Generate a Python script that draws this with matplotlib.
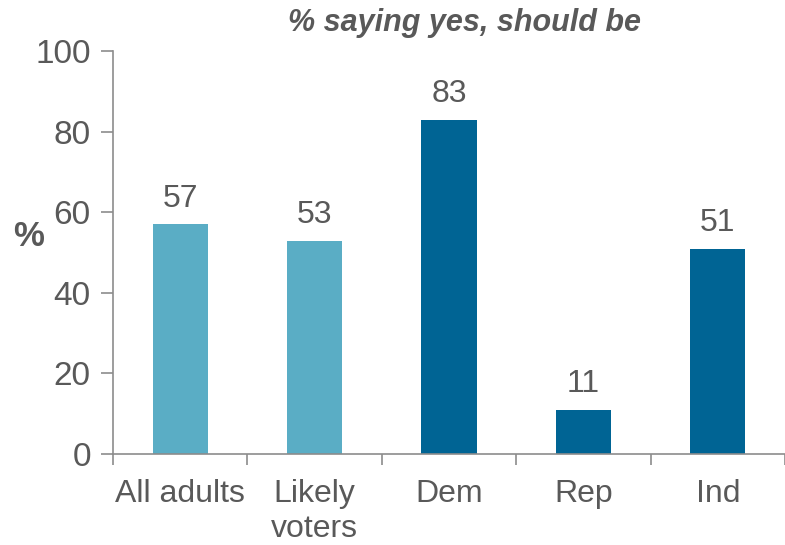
import matplotlib.pyplot as plt
import numpy as np

plt.rcParams['font.family'] = ['Liberation Sans', 'DejaVu Sans']

categories = ['All adults', 'Likely\nvoters', 'Dem', 'Rep', 'Ind']
values = [57, 53, 83, 11, 51]
colors = ['#5aadc5', '#5aadc5', '#006494', '#006494', '#006494']

text_c = '#595959'
axis_c = '#8c8c8c'

fig = plt.figure(figsize=(7.85, 5.45), dpi=100)
ax = fig.add_axes([0.144, 0.167, 0.856, 0.739])

x = np.arange(len(categories))
ax.bar(x, values, width=0.41, color=colors, zorder=2)

for xi, v in zip(x, values):
    ax.text(xi, v + 2.7, str(v), ha='center', va='bottom', fontsize=23, color=text_c)

ax.set_xlim(-0.5, len(categories) - 0.5)
ax.set_ylim(0, 100)
ax.set_yticks([0, 20, 40, 60, 80, 100])

# category labels in the middle, tick marks on the boundaries
ax.set_xticks(np.arange(len(categories) + 1) - 0.5)
ax.set_xticklabels([])
ax.set_xticks(x, minor=True)
ax.set_xticklabels(categories, minor=True, fontsize=23, color=text_c, linespacing=1.2)
ax.tick_params(axis='x', which='minor', length=0, pad=18)
ax.tick_params(axis='x', which='major', length=8, color=axis_c, width=1.2)
ax.tick_params(axis='y', length=9, color=axis_c, width=1.2, labelsize=24,
               labelcolor=text_c, pad=7)

for s in ['top', 'right']:
    ax.spines[s].set_visible(False)
for s in ['left', 'bottom']:
    ax.spines[s].set_color(axis_c)
    ax.spines[s].set_linewidth(1.2)

ax.set_ylabel('%', rotation=0, fontsize=25, fontweight='bold', color=text_c)
ax.yaxis.set_label_coords(-0.125, 0.5)

fig.text(0.592, 0.958, '% saying yes, should be', ha='center', va='center',
         fontsize=22, fontweight='bold', fontstyle='italic', color=text_c)

fig.savefig('out.png', dpi=100)
